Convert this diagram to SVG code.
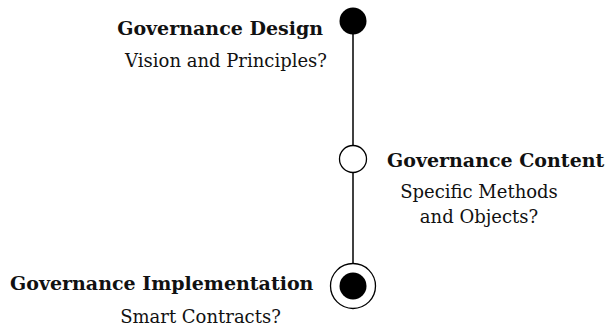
<svg xmlns="http://www.w3.org/2000/svg" width="608" height="333" viewBox="0 0 608 333">
<style>
text{font-family:"DejaVu Serif",serif;fill:#111}
.t{font-weight:bold;font-size:19px}
.s{font-weight:normal;font-size:18px}
.line{stroke:#000;stroke-width:1.5;fill:none}
.ring{fill:#fff;stroke:#000;stroke-width:1.3}
.dot{fill:#000}
</style>
<rect width="608" height="333" fill="#fff"/>
<g id="connectors">
<line class="line" x1="353" y1="21" x2="353" y2="286"/>
</g>
<g id="node-design">
<circle class="dot" cx="353" cy="21" r="13.5"/>
<text class="t" x="323" y="35" text-anchor="end">Governance Design</text>
<text class="s" x="327" y="67" text-anchor="end">Vision and Principles?</text>
</g>
<g id="node-content">
<circle class="ring" cx="353" cy="159" r="13.5"/>
<text class="t" x="387" y="167">Governance Content</text>
<text class="s" x="479" y="198" text-anchor="middle">Specific Methods</text>
<text class="s" x="479" y="223" text-anchor="middle">and Objects?</text>
</g>
<g id="node-implementation">
<circle class="ring" cx="353" cy="286" r="22.5"/>
<circle class="dot" cx="353" cy="286" r="13.5"/>
<text class="t" x="10" y="290">Governance Implementation</text>
<text class="s" x="200.5" y="323" text-anchor="middle">Smart Contracts?</text>
</g>
</svg>
